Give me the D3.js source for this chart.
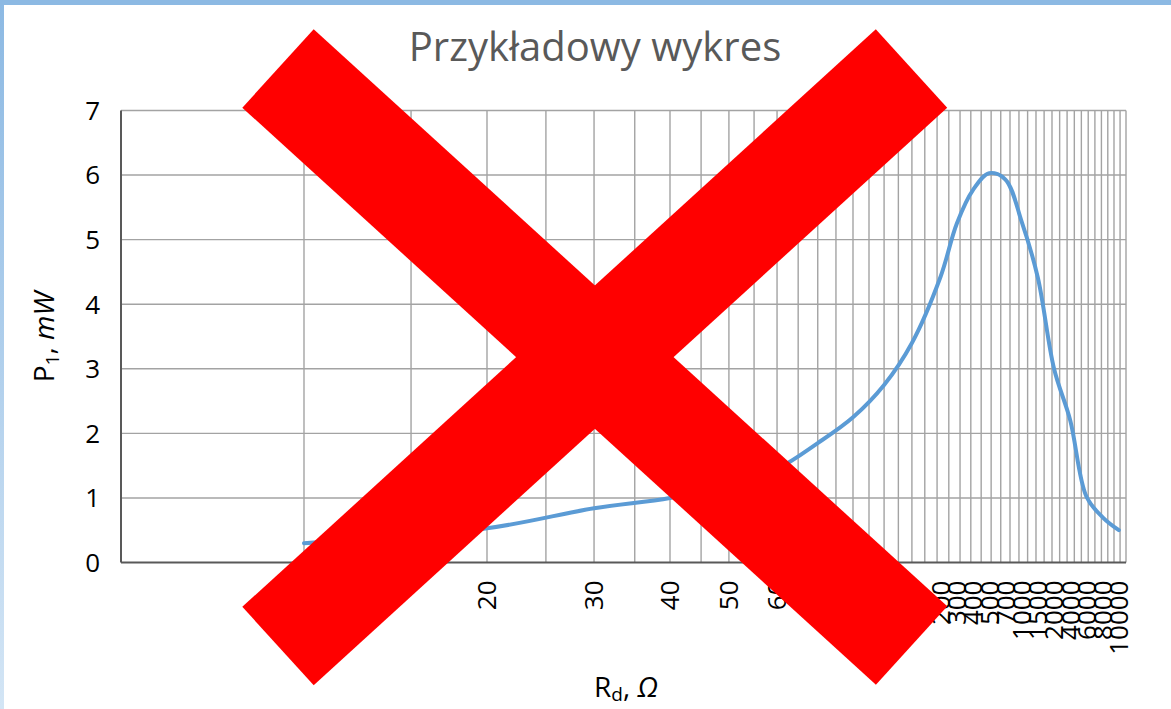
<!DOCTYPE html>
<html>
<head>
<meta charset="utf-8">
<script src="https://cdn.jsdelivr.net/npm/d3@7"></script>
<style>
  body { margin: 0; background: #fff; }
  svg { display: block; font-family: "Open Sans", "Noto Sans", sans-serif; }
</style>
</head>
<body>
<svg id="chart"></svg>
<script>
// Full size of the picture.
const WIDTH = 1171
const HEIGHT = 709

// Plot area (the grid box).
const PLOT_LEFT = 121
const PLOT_RIGHT = 1126
const PLOT_TOP = 110.5
const PLOT_BOTTOM = 562.5

// Data.
// Resistances on the left part of the axis sit on the log grid,
// the ones on the right are squeezed into the last few grid cells.
const leftR = [10, 20, 30, 40, 50, 60, 70, 80, 90, 100]
const rightR = [200, 300, 400, 500, 700, 1000, 1500, 2000, 4000, 6000, 8000, 10000]
const power = [
  0.30, 0.53, 0.84, 1.00, 1.20, 1.45, 1.85, 2.25, 2.75, 3.40,
  4.43, 5.25, 5.77, 6.03, 5.93, 5.28, 4.41, 3.00, 2.20, 1.02, 0.70, 0.50,
]
const yTicks = [0, 1, 2, 3, 4, 5, 6, 7]

const svg = d3.select("#chart").attr("width", WIDTH).attr("height", HEIGHT)

// Light blue frame of the screenshot.
const defs = svg.append("defs")
const grad = defs.append("linearGradient").attr("id", "edge").attr("x1", 0).attr("y1", 0).attr("x2", 0).attr("y2", 1)
grad.append("stop").attr("offset", "0%").attr("stop-color", "#8cb9e3")
grad.append("stop").attr("offset", "100%").attr("stop-color", "#d3e5f5")
svg.append("rect").attr("x", 0).attr("y", 0).attr("width", 4).attr("height", HEIGHT).attr("fill", "url(#edge)")
svg.append("rect").attr("x", 0).attr("y", 0).attr("width", WIDTH).attr("height", 5).attr("fill", "#8cb9e3")

// Scales.
const xGrid = d3.scaleLog().domain([5, 225]).range([PLOT_LEFT, PLOT_RIGHT])
const xRight = d3.scalePoint().domain(rightR).range([xGrid(111.5), xGrid(219)])
const xPos = (r) => (leftR.includes(r) ? xGrid(r) : xRight(r))
const y = d3.scaleLinear().domain([0, 7]).range([PLOT_BOTTOM, PLOT_TOP])

const allR = leftR.concat(rightR)
const points = allR.map((r, i) => ({ r, p: power[i] }))

// Vertical grid every 5 ohm on the log scale.
svg.append("g")
  .selectAll("line")
  .data(d3.range(10, 230, 5))
  .join("line")
  .attr("x1", (d) => xGrid(d)).attr("x2", (d) => xGrid(d))
  .attr("y1", PLOT_TOP).attr("y2", PLOT_BOTTOM)
  .attr("stroke", "#a3a3a3").attr("stroke-width", 1.4)

// Horizontal grid.
svg.append("g")
  .selectAll("line")
  .data(yTicks.slice(1))
  .join("line")
  .attr("x1", PLOT_LEFT).attr("x2", PLOT_RIGHT)
  .attr("y1", (d) => y(d)).attr("y2", (d) => y(d))
  .attr("stroke", "#a3a3a3").attr("stroke-width", 1.4)

// Axis lines.
svg.append("line")
  .attr("x1", PLOT_LEFT).attr("x2", PLOT_LEFT).attr("y1", PLOT_TOP).attr("y2", PLOT_BOTTOM)
  .attr("stroke", "#595959").attr("stroke-width", 2)
svg.append("line")
  .attr("x1", PLOT_LEFT).attr("x2", PLOT_RIGHT).attr("y1", PLOT_BOTTOM).attr("y2", PLOT_BOTTOM)
  .attr("stroke", "#595959").attr("stroke-width", 2)

// Y tick labels.
svg.append("g")
  .selectAll("text")
  .data(yTicks)
  .join("text")
  .attr("x", 100).attr("y", (d) => y(d))
  .attr("dy", "0.36em")
  .attr("text-anchor", "end")
  .attr("font-size", 26)
  .attr("fill", "#000")
  .text((d) => d)

// X tick labels, rotated.
svg.append("g")
  .selectAll("text")
  .data(allR)
  .join("text")
  .attr("transform", (d) => `translate(${xPos(d)},${PLOT_BOTTOM + 18}) rotate(-90)`)
  .attr("dy", "0.36em")
  .attr("text-anchor", "end")
  .attr("font-size", 26)
  .attr("fill", "#000")
  .text((d) => d)

// The curve.
const line = d3.line()
  .x((d) => xPos(d.r))
  .y((d) => y(d.p))
  .curve(d3.curveCatmullRom.alpha(0.5))
svg.append("path")
  .datum(points)
  .attr("d", line)
  .attr("fill", "none")
  .attr("stroke", "#5b9bd5")
  .attr("stroke-width", 4)
  .attr("stroke-linecap", "round")

// Title.
svg.append("text")
  .attr("x", 595).attr("y", 61)
  .attr("text-anchor", "middle")
  .attr("font-size", 40)
  .attr("fill", "#595959")
  .text("Przykładowy wykres")

// Axis titles.
const yTitle = svg.append("text")
  .attr("transform", "translate(54,337) rotate(-90)")
  .attr("text-anchor", "middle")
  .attr("font-size", 28)
  .attr("fill", "#000")
yTitle.append("tspan").text("P")
yTitle.append("tspan").attr("font-size", 19).attr("dy", 5).text("1")
yTitle.append("tspan").attr("dy", -5).text(", ")
yTitle.append("tspan").attr("font-style", "italic").text("mW")

const xTitle = svg.append("text")
  .attr("x", 626).attr("y", 697)
  .attr("text-anchor", "middle")
  .attr("font-size", 28)
  .attr("fill", "#000")
xTitle.append("tspan").text("R")
xTitle.append("tspan").attr("font-size", 19).attr("dy", 4).text("d")
xTitle.append("tspan").attr("dy", -4).text(", ")
xTitle.append("tspan").attr("font-style", "italic").text("Ω")

// The big red cross drawn over the chart.
const cross = [
  { x1: 278, y1: 68.5, x2: 911.6, y2: 645.5 },
  { x1: 278, y1: 646, x2: 911.5, y2: 68.5 },
]
svg.append("g")
  .selectAll("line")
  .data(cross)
  .join("line")
  .attr("x1", (d) => d.x1).attr("y1", (d) => d.y1)
  .attr("x2", (d) => d.x2).attr("y2", (d) => d.y2)
  .attr("stroke", "#ff0000")
  .attr("stroke-width", 106)
  .attr("stroke-linecap", "butt")
</script>
</body>
</html>
